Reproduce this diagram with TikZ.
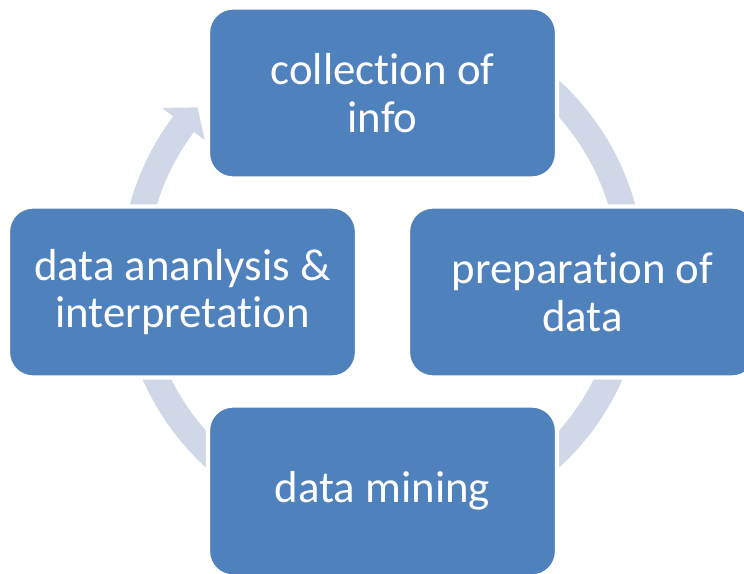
\documentclass[tikz,border=0pt]{standalone}
\usepackage{fontspec}
\setmainfont[Ligatures=NoCommon]{Carlito}
\definecolor{Accent}{HTML}{4F81BD}
\definecolor{Band}{HTML}{D0D8E8}

\begin{document}
\begin{tikzpicture}[
  stepbox/.style={
    rounded corners=0.5cm,
    draw=white,
    line width=0.086cm,
    fill=Accent,
    align=center,
    text=white,
    font=\fontsize{25.5}{27.2}\selectfont,
    minimum width=6.98cm,
    minimum height=3.42cm
  },
  band/.style={
    fill=Band
  }
]

\clip (-7.65,-5.62) rectangle (7.23,5.84);

% centre of the cycle band
\coordinate (hub) at (0,0.36);

\begin{scope}[shift={(hub)}]
  % plain part of the band, its ends hidden under the boxes
  \fill[band] (130:5.24) arc[start angle=130, end angle=-175, radius=5.24]
    -- (-175:4.72) arc[start angle=-175, end angle=130, radius=4.72] -- cycle;
  % the part that ends in the arrow head
  \fill[band] (185:5.24) arc[start angle=185, end angle=143, radius=5.24]
    -- (143:5.52) -- (138:4.98) -- (143:4.45)
    -- (143:4.72) arc[start angle=143, end angle=185, radius=4.72] -- cycle;
\end{scope}

\node[stepbox] (collect) at (0,3.98)
  {collection of\\info};

\node[stepbox] (prepare) at (4.0,0)
  {preparation of\\data};

\node[stepbox] (mining) at (0,-3.98)
  {data mining};

\node[stepbox] (analysis) at (-4.0,0)
  {data ananlysis \&\\interpretation};

\end{tikzpicture}
\end{document}
